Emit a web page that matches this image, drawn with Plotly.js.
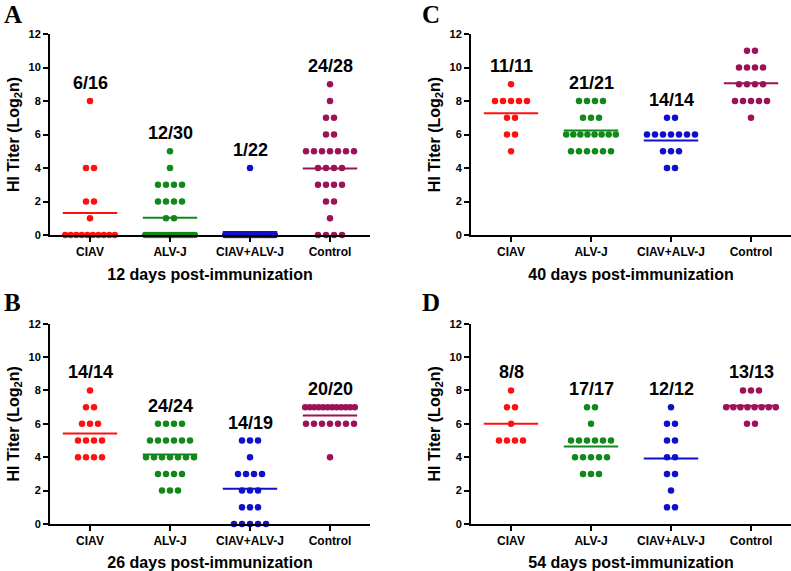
<!DOCTYPE html>
<html>
<head>
<meta charset="utf-8">
<script src="https://cdn.plot.ly/plotly-3.0.1.min.js"></script>
<style>html,body{margin:0;padding:0;background:#fff;}#chart{width:791px;height:571px;}</style>
</head>
<body>
<div id="chart"></div>
<script>
// ---- data ----
const groups = ["CIAV", "ALV-J", "CIAV+ALV-J", "Control"];
const groupColors = ["#ff1010", "#10881a", "#1010cc", "#9c1257"];

const day12_CIAV    = [8,4,4,2,2,1,0,0,0,0,0,0,0,0,0,0];
const day12_ALVJ    = [5,4,3,3,3,3,2,2,2,2,1,1,0,0,0,0,0,0,0,0,0,0,0,0,0,0,0,0,0,0];
const day12_BOTH    = [4,0,0,0,0,0,0,0,0,0,0,0,0,0,0,0,0,0,0,0,0,0];
const day12_Control = [9,8,7,7,6,6,5,5,5,5,5,5,5,4,4,4,4,3,3,3,3,2,2,1,0,0,0,0];
const day12_labels  = ["6/16", "12/30", "1/22", "24/28"];

const day26_CIAV    = [8,7,7,6,6,6,5,5,5,5,4,4,4,4];
const day26_ALVJ    = [6,6,6,6,5,5,5,5,5,5,4,4,4,4,4,4,4,3,3,3,3,2,2,2];
const day26_BOTH    = [5,5,5,4,3,3,3,3,2,2,2,1,1,1,0,0,0,0,0];
const day26_Control = [7,7,7,7,7,7,7,7,7,7,7,7,6,6,6,6,6,6,6,4];
const day26_labels  = ["14/14", "24/24", "14/19", "20/20"];

const day40_CIAV    = [9,8,8,8,8,8,7,7,6,6,5];
const day40_ALVJ    = [8,8,8,8,7,7,7,6,6,6,6,6,6,6,6,5,5,5,5,5,5];
const day40_BOTH    = [7,7,6,6,6,6,6,6,6,5,5,5,4,4];
const day40_Control = [11,11,10,10,10,10,9,9,9,9,8,8,8,8,8,7];
const day40_labels  = ["11/11", "21/21", "14/14", "16/16"];

const day54_CIAV    = [8,7,7,6,5,5,5,5];
const day54_ALVJ    = [7,7,6,5,5,5,5,5,5,4,4,4,4,4,3,3,3];
const day54_BOTH    = [7,6,6,5,5,4,4,3,3,2,1,1];
const day54_Control = [8,8,8,7,7,7,7,7,7,7,7,6,6];
const day54_labels  = ["8/8", "17/17", "12/12", "13/13"];

const panels = [
  {letter: "A", title: "12 days post-immunization", sets: [day12_CIAV, day12_ALVJ, day12_BOTH, day12_Control], labels: day12_labels},
  {letter: "C", title: "40 days post-immunization", sets: [day40_CIAV, day40_ALVJ, day40_BOTH, day40_Control], labels: day40_labels},
  {letter: "B", title: "26 days post-immunization", sets: [day26_CIAV, day26_ALVJ, day26_BOTH, day26_Control], labels: day26_labels},
  {letter: "D", title: "54 days post-immunization", sets: [day54_CIAV, day54_ALVJ, day54_BOTH, day54_Control], labels: day54_labels}
];

// ---- layout geometry ----
const W = 791, H = 571;
const xDom = [[50/W, 370/W], [471/W, 1.0], [50/W, 370/W], [471/W, 1.0]];
const yDom = [[1-235/H, 1-34/H], [1-235/H, 1-34/H], [1-524/H, 1-323.7/H], [1-524/H, 1-323.7/H]];
const letterPos = [[13/W, 1-14/H], [431/W, 1-14/H], [13/W, 1-302/H], [431/W, 1-302/H]];

const FONT = "Liberation Sans, Arial, sans-serif";
const traces = [];
const layout = {
  width: W, height: H,
  margin: {l: 0, r: 0, t: 0, b: 0},
  paper_bgcolor: "#ffffff", plot_bgcolor: "#ffffff",
  showlegend: false,
  font: {family: FONT, color: "#000000"},
  annotations: []
};

function swarm(values, center) {
  // spread equal values horizontally in a row around the category
  const xs = new Array(values.length);
  const rows = {};
  values.forEach((v, i) => { (rows[v] = rows[v] || []).push(i); });
  Object.keys(rows).forEach(k => {
    const idx = rows[k];
    const n = idx.length;
    const s = n > 1 ? Math.min(0.1, 0.62 / (n - 1)) : 0;
    idx.forEach((ii, j) => { xs[ii] = center + (j - (n - 1) / 2) * s; });
  });
  return xs;
}

panels.forEach((p, pi) => {
  const sfx = pi === 0 ? "" : String(pi + 1);
  const xa = "x" + sfx, ya = "y" + sfx;
  p.sets.forEach((vals, gi) => {
    traces.push({
      type: "scatter", mode: "markers", xaxis: xa, yaxis: ya,
      x: swarm(vals, gi), y: vals,
      marker: {color: groupColors[gi], size: 6.5},
      cliponaxis: false, hoverinfo: "y"
    });
    const mean = vals.reduce((a, b) => a + b, 0) / vals.length;
    traces.push({
      type: "scatter", mode: "lines", xaxis: xa, yaxis: ya,
      x: [gi - 0.34, gi + 0.34], y: [mean, mean],
      line: {color: groupColors[gi], width: 2},
      cliponaxis: false, hoverinfo: "skip"
    });
    layout.annotations.push({
      xref: xa, yref: ya, x: gi, y: Math.max(...vals) + 1.08,
      text: p.labels[gi], showarrow: false, xanchor: "center", yanchor: "middle",
      font: {family: FONT, size: 18, weight: 700, color: "#000000"}
    });
  });
  layout["xaxis" + sfx] = {
    domain: xDom[pi], anchor: ya, range: [-0.5, 3.5],
    tickmode: "array", tickvals: [0, 1, 2, 3], ticktext: groups,
    ticks: "outside", ticklen: 5, tickwidth: 2, tickcolor: "#000",
    showline: true, linewidth: 2, linecolor: "#000",
    showgrid: false, zeroline: false, fixedrange: true,
    tickfont: {family: FONT, size: 12, weight: 700, color: "#000"},
    title: {text: p.title, standoff: 10, font: {family: FONT, size: 16, weight: 700, color: "#000"}}
  };
  layout["yaxis" + sfx] = {
    domain: yDom[pi], anchor: xa, range: [0, 12], dtick: 2, tick0: 0,
    ticks: "outside", ticklen: 5, tickwidth: 2, tickcolor: "#000",
    showline: true, linewidth: 2, linecolor: "#000",
    showgrid: false, zeroline: false, fixedrange: true,
    tickfont: {family: FONT, size: 11, weight: 700, color: "#000"},
    title: {text: "HI Titer (Log<sub>2</sub>n)", standoff: 5, font: {family: FONT, size: 16, weight: 700, color: "#000"}}
  };
  layout.annotations.push({
    xref: "paper", yref: "paper", x: letterPos[pi][0], y: letterPos[pi][1],
    text: p.letter, showarrow: false, xanchor: "center", yanchor: "middle",
    font: {family: "Liberation Serif, Times New Roman, serif", size: 25, weight: 700, color: "#000"}
  });
});

Plotly.newPlot("chart", traces, layout, {displayModeBar: false, staticPlot: false});
</script>
</body>
</html>
